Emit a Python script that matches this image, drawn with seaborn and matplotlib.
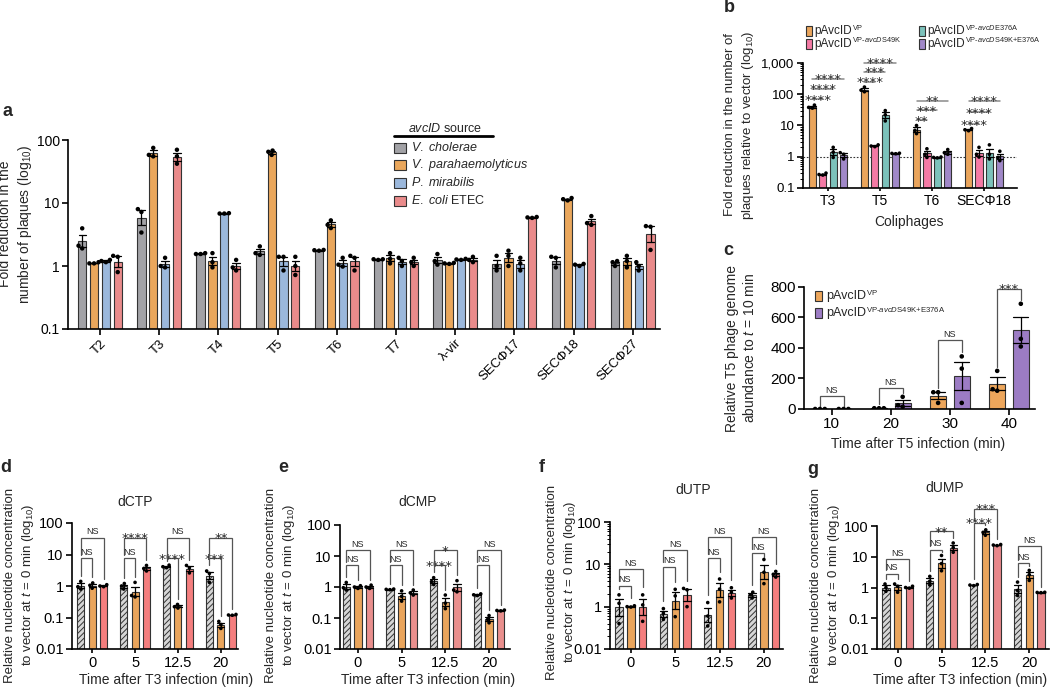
import numpy as np
import pandas as pd
import matplotlib
matplotlib.use('Agg')
import matplotlib.pyplot as plt
import seaborn as sns
from matplotlib.patches import Rectangle
from matplotlib.lines import Line2D
from matplotlib.ticker import NullLocator, LogLocator, NullFormatter

# ---------------- DATA ----------------
# Panel a
a_cats = ['T2', 'T3', 'T4', 'T5', 'T6', 'T7', 'λ-vir', 'SECΦ17', 'SECΦ18', 'SECΦ27']
a_groups = ['V. cholerae', 'V. parahaemolyticus', 'P. mirabilis', 'E. coli ETEC']
a_vchol = [[3.96, 2.1, 1.9], [8.0, 7.2, 3.4], [1.55, 1.6, 1.55], [2.05, 1.6, 1.5], [1.8, 1.78, 1.75],
           [1.28, 1.28, 1.25], [1.55, 1.2, 1.05], [1.45, 1.0, 0.85], [1.4, 1.35, 0.95], [1.2, 1.15, 1.0]]
a_vpara = [[1.1, 1.1, 1.15], [75, 58, 55], [1.6, 1.15, 0.95], [68, 65, 58], [5.3, 4.5, 4.0],
           [1.6, 1.3, 1.1], [1.12, 1.1, 1.08], [1.75, 1.45, 1.0], [12, 11.5, 11], [1.45, 1.2, 0.95]]
a_pmir = [[1.25, 1.2, 1.15], [1.35, 1.0, 0.95], [6.9, 6.8, 6.8], [1.4, 1.4, 0.85], [1.35, 1.05, 0.98],
          [1.35, 1.2, 1.0], [1.3, 1.27, 1.25], [1.35, 1.1, 0.85], [1.08, 1.05, 1.0], [1.15, 1.0, 0.85]]
a_ecoli = [[1.45, 1.4, 0.8], [70, 55, 42], [1.25, 0.95, 0.85], [1.4, 1.0, 0.72], [1.45, 1.35, 0.85],
           [1.35, 1.15, 1.0], [1.4, 1.25, 1.15], [6.0, 5.9, 5.8], [6.2, 4.8, 4.5], [4.3, 4.2, 1.8]]

# Panel b
b_cats = ['T3', 'T5', 'T6', 'SECΦ18']
b_groups = ['VP', 'VP-S49K', 'VP-E376A', 'VP-S49K+E376A']
b_vp = [[45, 38, 36], [170, 135, 120], [10, 7, 5.5], [8.0, 7.3, 6.8]]
b_s49k = [[0.3, 0.27, 0.26], [2.4, 2.2, 2.1], [1.8, 1.2, 0.95], [2.0, 1.2, 0.98]]
b_e376a = [[2.0, 1.4, 0.95], [30, 22, 14], [0.98, 0.95, 0.92], [2.4, 1.2, 0.85]]
b_double = [[1.35, 1.2, 0.85], [1.3, 1.28, 1.25], [1.7, 1.35, 1.2], [1.5, 0.95, 0.75]]
b_sig = [(0, 1, '****', 70), (0, 2, '****', 147), (0, 3, '****', 307),
         (1, 1, '****', 246), (1, 2, '***', 515), (1, 3, '****', 1000),
         (2, 1, '**', 14.9), (2, 2, '***', 31), (2, 3, '**', 60.7),
         (3, 1, '****', 11.1), (3, 2, '****', 26.8), (3, 3, '****', 60.7)]

# Panel c
c_cats = ['10', '20', '30', '40']
c_groups = ['VP', 'VP-S49K+E376A']
c_vp = [[0, 0, 0], [5, 5, 5], [110, 110, 40], [250, 130, 120]]
c_double = [[0, 0, 0], [80, 25, 15], [345, 265, 40], [690, 460, 410]]
c_sig = [(0, 'NS', 85), (1, 'NS', 138), (2, 'NS', 452), (3, '***', 787)]

# Panels d-g
t_cats = ['0', '5', '12.5', '20']
t_groups = ['vector', 'pAvcID VP', 'pAvcID EC']
d_vec = [[1.4, 0.95, 0.8], [1.2, 1.0, 0.8], [4.6, 4.1, 3.8], [3.0, 2.5, 1.3]]
d_vp = [[1.25, 1.05, 0.85], [1.3, 0.5, 0.45], [0.26, 0.22, 0.2], [0.075, 0.06, 0.045]]
d_ec = [[1.1, 1.0, 0.95], [4.5, 3.6, 3.0], [4.5, 3.8, 2.6], [0.125, 0.12, 0.118]]
d_sig = [(0, 1, 'NS', 7.5), (0, 2, 'NS', 34), (1, 1, 'NS', 7.5), (1, 2, '****', 34),
         (2, 1, '****', 7.5), (2, 2, 'NS', 34), (3, 1, '***', 7.5), (3, 2, '**', 34)]

e_vec = [[1.4, 0.95, 0.8], [0.86, 0.84, 0.82], [2.0, 1.5, 1.2], [0.6, 0.56, 0.53]]
e_vp = [[1.1, 1.0, 0.9], [0.75, 0.5, 0.35], [0.55, 0.3, 0.2], [0.12, 0.09, 0.07]]
e_ec = [[1.15, 1.0, 0.9], [0.8, 0.65, 0.55], [1.6, 0.8, 0.7], [0.18, 0.175, 0.17]]
e_sig = [(0, 1, 'NS', 4.95), (0, 2, 'NS', 15.5), (1, 1, 'NS', 4.95), (1, 2, 'NS', 15.5),
         (2, 1, '****', 4.95), (2, 2, '*', 15.5), (3, 1, 'NS', 4.95), (3, 2, 'NS', 15.5)]

f_vec = [[1.9, 1.2, 0.4], [0.9, 0.7, 0.5], [1.25, 0.6, 0.35], [2.2, 1.9, 1.6]]
f_vp = [[1.05, 1.0, 0.98], [2.57, 1.8, 0.58], [4.5, 2.6, 1.3], [13, 6.5, 3.5]]
f_ec = [[1.9, 1.1, 0.45], [2.7, 2.5, 1.0], [2.8, 2.2, 1.6], [6.8, 5.8, 5.0]]
f_sig = [(0, 1, 'NS', 3.1), (0, 2, 'NS', 7.6), (1, 1, 'NS', 8.8), (1, 2, 'NS', 21.8),
         (2, 1, 'NS', 13.8), (2, 2, 'NS', 43.5), (3, 1, 'NS', 18.2), (3, 2, 'NS', 43.5)]

g_vec = [[1.3, 1.0, 0.75], [2.3, 1.6, 1.2], [1.25, 1.2, 1.15], [1.5, 0.8, 0.55]]
g_vp = [[1.3, 1.1, 0.7], [11, 6, 3.5], [75, 62, 50], [3.6, 2.6, 1.7]]
g_ec = [[1.1, 1.0, 0.95], [28, 20, 14], [25, 24, 23], [0.7, 0.69, 0.68]]
g_sig = [(0, 1, 'NS', 2.8), (0, 2, 'NS', 8.2), (1, 1, 'NS', 17), (1, 2, '**', 67),
         (2, 1, '****', 125), (2, 2, '***', 362), (3, 1, 'NS', 6.1), (3, 2, 'NS', 22)]

# ---------------- STYLE ----------------
sns.set_style('ticks')
plt.rcParams['font.family'] = ['Liberation Sans', 'DejaVu Sans']
plt.rcParams['mathtext.fontset'] = 'custom'
plt.rcParams['mathtext.rm'] = 'Liberation Sans'
plt.rcParams['mathtext.it'] = 'Liberation Sans:italic'
plt.rcParams['mathtext.bf'] = 'Liberation Sans:bold'
plt.rcParams['hatch.linewidth'] = 0.7
plt.rcParams['axes.edgecolor'] = 'black'
plt.rcParams['xtick.color'] = 'black'
plt.rcParams['ytick.color'] = 'black'

W, H = 1050, 690
fig = plt.figure(figsize=(W / 100, H / 100), dpi=100)
renderer = fig.canvas.get_renderer()

STAR_FONT = 'DejaVu Sans'


def px_axes(l, t, r, b):
    return fig.add_axes([l / W, 1 - b / H, (r - l) / W, (b - t) / H])


def fx(x):
    return x / W


def fy(y):
    return 1 - y / H


def long_df(cats, groups, series):
    rows = []
    for g, vals in zip(groups, series):
        for c, reps in zip(cats, vals):
            for v in reps:
                rows.append((c, g, v))
    return pd.DataFrame(rows, columns=['cat', 'grp', 'val'])


def hue_x(i, j, n, width=0.8):
    return i - width / 2 + width / n * (j + 0.5)


def draw_bars(ax, df, cats, groups, colors, log=True, psize=3, gap=0.32, capsize=0.5):
    if log:
        ax.set_yscale('log')
    sns.barplot(data=df, x='cat', y='val', hue='grp', order=cats, hue_order=groups,
                palette=colors, errorbar='se', capsize=capsize, gap=gap,
                edgecolor='#333333', linewidth=0.8, saturation=1,
                err_kws={'color': 'black', 'linewidth': 0.9}, legend=False, ax=ax)
    sns.swarmplot(data=df, x='cat', y='val', hue='grp', order=cats, hue_order=groups,
                  palette={g: 'black' for g in groups}, dodge=True, size=psize,
                  legend=False, ax=ax)


def style_ax(ax, labelsize=9.5, lw=1.2):
    sns.despine(ax=ax)
    for s in ['left', 'bottom']:
        ax.spines[s].set_linewidth(lw)
    ax.tick_params(axis='both', which='major', width=lw, length=4, labelsize=labelsize, pad=2)
    ax.set_xlabel('')
    ax.set_ylabel('')


def star_text(ax, x, y, lab, fs=9.5):
    ax.annotate(lab, xy=(x, y), xytext=(0, -3.2), textcoords='offset points',
                ha='center', va='baseline', fontsize=fs, family=STAR_FONT,
                annotation_clip=False)


def bracket(ax, x1, x2, y, y1b, y2b, label, fs_ns=6.5, fs_star=9.5, color='#555555'):
    ax.plot([x1, x1, x2, x2], [y1b, y, y, y2b], color=color, lw=0.9, clip_on=False,
            solid_joinstyle='miter')
    if label == 'NS':
        ax.annotate(label, xy=((x1 + x2) / 2, y), xytext=(0, 1), textcoords='offset points',
                    ha='center', va='bottom', fontsize=fs_ns, annotation_clip=False)
    else:
        star_text(ax, (x1 + x2) / 2, y, label, fs_star)


def sig_log(ax, sigs, series, n=3):
    for (i, j, lab, lev) in sigs:
        x1 = hue_x(i, 0, n)
        x2 = hue_x(i, j, n)
        lower = [s[3] for s in sigs if s[0] == i and s[3] < lev]
        if lower:
            y1 = max(lower) * 1.3
        else:
            y1 = max(series[0][i]) * 1.5
        y2 = max(series[j][i]) * 1.5
        y1 = min(y1, lev / 1.2)
        y2 = min(y2, lev / 1.2)
        bracket(ax, x1, x2, lev, y1, y2, lab)


def sup_label(x, y, base, sup, fs=8.5, sfs=5.3):
    t = fig.text(fx(x), fy(y), base, ha='left', va='center', fontsize=fs)
    bb = t.get_window_extent(renderer=renderer)
    fig.text((bb.x1 + 0.5) / W, fy(y - 3.8), sup, ha='left', va='center', fontsize=sfs)


# ---------------- PANEL A ----------------
axa = px_axes(68, 140, 660, 329)
a_colors = ['#a2a2a6', '#eaa75c', '#9bb8dc', '#ea8b8b']
dfa = long_df(a_cats, a_groups, [a_vchol, a_vpara, a_pmir, a_ecoli])
draw_bars(axa, dfa, a_cats, a_groups, a_colors, psize=3.2, gap=0.3)
axa.set_ylim(0.1, 100)
axa.set_xlim(-0.54, 9.46)
axa.set_yticks([0.1, 1, 10, 100])
axa.set_yticklabels(['0.1', '1', '10', '100'])
axa.yaxis.set_minor_locator(NullLocator())
style_ax(axa, labelsize=10)
axa.set_xticks(range(len(a_cats)))
axa.set_xticklabels(a_cats, rotation=45, ha='right', rotation_mode='anchor', fontsize=9.5)
fig.text(fx(16), fy(224), 'Fold reduction in the\nnumber of plaques (log$_{10}$)', rotation=90,
         ha='center', va='center', fontsize=10, linespacing=1.3)

# legend a
fig.text(fx(445), fy(128), r'$\mathit{avcID}$ source', ha='center', va='center', fontsize=9)
fig.add_artist(Line2D([fx(394), fx(493)], [fy(136), fy(136)], color='black', lw=2))
a_leg_labels = [r'$\mathit{V.\ cholerae}$', r'$\mathit{V.\ parahaemolyticus}$',
                r'$\mathit{P.\ mirabilis}$', r'$\mathit{E.\ coli}$ ETEC']
for k, (lab, col) in enumerate(zip(a_leg_labels, a_colors)):
    yc = [147.5, 165, 183, 201][k]
    fig.add_artist(Rectangle((fx(394), fy(yc + 5)), 12 / W, 10 / H, facecolor=col,
                             edgecolor='#333333', lw=0.8, transform=fig.transFigure))
    fig.text(fx(411), fy(yc), lab, ha='left', va='center', fontsize=9)

# ---------------- PANEL B ----------------
axb = px_axes(803, 63, 1017, 188)
b_colors = ['#eaa55c', '#f47aa5', '#7cc2bb', '#a088c8']
dfb = long_df(b_cats, b_groups, [b_vp, b_s49k, b_e376a, b_double])
draw_bars(axb, dfb, b_cats, b_groups, b_colors, psize=2.6, gap=0.3)
axb.axhline(1, ls=(0, (1.5, 1.5)), color='#333333', lw=0.8, zorder=0.5)
axb.set_ylim(0.1, 1000)
axb.set_xlim(-0.48, 3.63)
axb.set_yticks([0.1, 1, 10, 100, 1000])
axb.set_yticklabels(['0.1', '1', '10', '100', '1,000'])
axb.yaxis.set_minor_locator(LogLocator(base=10, subs=np.arange(2, 10)))
axb.yaxis.set_minor_formatter(NullFormatter())
style_ax(axb, labelsize=9.5)
axb.tick_params(axis='y', which='minor', length=2, width=0.7)
axb.tick_params(axis='x', labelsize=10, length=2)
for (i, j, lab, lev) in b_sig:
    x1 = hue_x(i, 0, 4)
    x2 = hue_x(i, j, 4)
    axb.plot([x1, x2], [lev, lev], color='#8a8a8a', lw=1.1, clip_on=False)
    star_text(axb, (x1 + x2) / 2, lev, lab, fs=9.5)
fig.text(fx(909), fy(222), 'Coliphages', ha='center', va='center', fontsize=10)
fig.text(fx(740), fy(125), 'Fold reduction in the number of\nplaques relative to vector (log$_{10}$)',
         rotation=90, ha='center', va='center', fontsize=9.5, linespacing=1.3)
b_sups = [r'$\mathrm{VP}$',
          r'$\mathrm{VP‐}\mathit{avcD}\mathrm{S49K}$',
          r'$\mathrm{VP‐}\mathit{avcD}\mathrm{E376A}$',
          r'$\mathrm{VP‐}\mathit{avcD}\mathrm{S49K{+}E376A}$']
b_leg_pos = [(806, 31), (806, 43.5), (919, 31), (919, 43.5)]
for sup, col, (xp, yp) in zip(b_sups, b_colors, b_leg_pos):
    fig.add_artist(Rectangle((fx(xp), fy(yp + 5)), 6 / W, 10 / H, facecolor=col,
                             edgecolor='#333333', lw=0.8, transform=fig.transFigure))
    sup_label(xp + 8, yp, 'pAvcID', sup)

# ---------------- PANEL C ----------------
axc = px_axes(804, 287, 1035, 409)
c_colors = ['#eda65b', '#9c7cc4']
dfc = long_df(c_cats, c_groups, [c_vp, c_double])
draw_bars(axc, dfc, c_cats, c_groups, c_colors, log=False, psize=3.3, gap=0.32)
axc.set_ylim(0, 800)
axc.set_xlim(-0.47, 3.44)
axc.set_yticks([0, 200, 400, 600, 800])
style_ax(axc, labelsize=11)
for (i, lab, lev) in c_sig:
    x1 = hue_x(i, 0, 2)
    x2 = hue_x(i, 1, 2)
    y1 = min(max(c_vp[i]) + 28, lev - 15)
    y2 = min(max(c_double[i]) + 28, lev - 15)
    if max(c_vp[i]) == 0:
        y1 = 8
    if max(c_double[i]) == 0:
        y2 = 8
    bracket(axc, x1, x2, lev, y1, y2, lab, fs_ns=6.5, fs_star=9.5)
fig.text(fx(918), fy(444), 'Time after T5 infection (min)', ha='center', va='center', fontsize=10)
fig.text(fx(741), fy(348), 'Relative T5 phage genome\nabundance to $t$ = 10 min', rotation=90,
         ha='center', va='center', fontsize=10, linespacing=1.3)
c_sups = [r'$\mathrm{VP}$', r'$\mathrm{VP‐}\mathit{avcD}\mathrm{S49K{+}E376A}$']
for k, (sup, col) in enumerate(zip(c_sups, c_colors)):
    yc = [296, 313][k]
    fig.add_artist(Rectangle((fx(815), fy(yc + 5)), 7 / W, 10 / H, facecolor=col,
                             edgecolor='#333333', lw=0.8, transform=fig.transFigure))
    sup_label(826, yc, 'pAvcID', sup, fs=9, sfs=5.6)

# ---------------- PANELS D-G ----------------
panels = [
    dict(box=(72, 523, 238, 649), xlim=(-0.47, 3.4), series=[d_vec, d_vp, d_ec], sig=d_sig,
         red='#f47e7e', title='dCTP', tpos=(135, 502), ylab=(20, 585), xlab=(166, 680), comp=False),
    dict(box=(340, 525, 510, 649), xlim=(-0.41, 3.48), series=[e_vec, e_vp, e_ec], sig=e_sig,
         red='#e98f8d', title='dCMP', tpos=(418, 502), ylab=(281, 585), xlab=(428, 680), comp=False),
    dict(box=(610, 522, 783, 649), xlim=(-0.47, 3.43), series=[f_vec, f_vp, f_ec], sig=f_sig,
         red='#f47e7e', title='dUTP', tpos=(693, 490), ylab=(562, 582), xlab=None, comp=True),
    dict(box=(877, 526, 1049, 649), xlim=(-0.47, 3.45), series=[g_vec, g_vp, g_ec], sig=g_sig,
         red='#e8878a', title='dUMP', tpos=(945, 488), ylab=(826, 585), xlab=(960, 680), comp=False),
]
for p in panels:
    ax = px_axes(*p['box'])
    cols = ['#d6d6d6', '#eaa55c', p['red']]
    df = long_df(t_cats, t_groups, p['series'])
    draw_bars(ax, df, t_cats, t_groups, cols, psize=2.6, gap=0.38)
    for patch in ax.containers[0]:
        patch.set_hatch('//////')
    ax.set_xlim(*p['xlim'])
    if p['comp']:
        ax.set_ylim(0.1, 100)
        ax.set_yticks([0.1, 1, 10, 100])
        ax.set_yticklabels(['0.01', '1', '10', '100'])
        ax.yaxis.set_minor_locator(LogLocator(base=10, subs=np.arange(2, 10)))
        ax.yaxis.set_minor_formatter(NullFormatter())
    else:
        ax.set_ylim(0.01, 100)
        ax.set_yticks([0.01, 0.1, 1, 10, 100])
        ax.set_yticklabels(['0.01', '0.1', '1', '10', '100'])
        ax.yaxis.set_minor_locator(NullLocator())
    style_ax(ax, labelsize=10.5)
    ax.tick_params(axis='y', which='minor', length=2, width=0.7)
    ax.tick_params(axis='x', length=3)
    sig_log(ax, p['sig'], p['series'])
    fig.text(fx(p['tpos'][0]), fy(p['tpos'][1]), p['title'], ha='center', va='center', fontsize=10)
    fig.text(fx(p['ylab'][0]), fy(p['ylab'][1]),
             'Relative nucleotide concentration\nto vector at $t$ = 0 min (log$_{10}$)',
             rotation=90, ha='center', va='center', fontsize=9.5, linespacing=1.3)
    if p['xlab'] is not None:
        fig.text(fx(p['xlab'][0]), fy(p['xlab'][1]), 'Time after T3 infection (min)',
                 ha='center', va='center', fontsize=10)

# ---------------- PANEL LABELS ----------------
for lab, (x, y) in zip('abcdefg', [(7, 112), (729, 8), (728, 250), (6, 467), (283, 467),
                                     (542, 467), (813, 470)]):
    fig.text(fx(x), fy(y), lab, ha='center', va='center', fontsize=13, fontweight='bold')

fig.savefig('out.png', dpi=100)
